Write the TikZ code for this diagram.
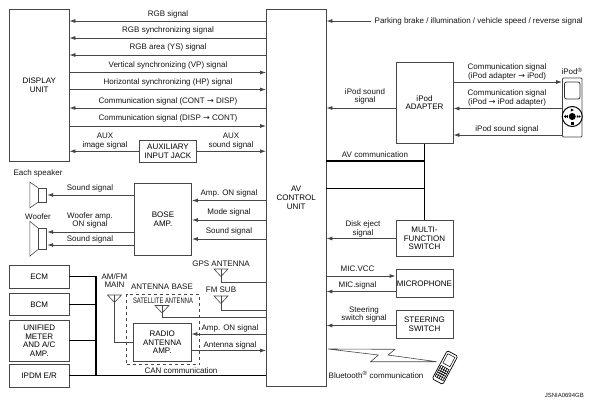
\documentclass[tikz,border=0pt]{standalone}
\usepackage{fontspec}
\setmainfont{Liberation Sans}
\newfontfamily\arrowfont{DejaVu Sans}
\usetikzlibrary{positioning,calc,arrows.meta}

\begin{document}
\begin{tikzpicture}[x=1pt,y=-1pt,
    font=\fontsize{8}{8.6}\selectfont,
    box/.style={draw=linecol, line width=0.8pt, inner sep=0pt, align=center},
    lbl/.style={inner sep=0pt, align=center, text=txtcol},
    sig/.style={draw=linecol, line width=0.8pt, -{Latex[length=6pt,width=4pt]}},
    wire/.style={draw=linecol, line width=0.8pt},
    bus/.style={draw=black, line width=1.3pt}]

\definecolor{linecol}{RGB}{70,70,70}
\definecolor{txtcol}{RGB}{20,20,20}

% ---------------- helper: antenna symbol ----------------
\newcommand{\antennasym}[3]{%
  \coordinate (#1) at (#2,#3);
  \draw[wire, line width=0.6pt] ($(#1)+(-7,0)$) -- ($(#1)+(7,0)$) -- ($(#1)+(0,7.5)$) -- cycle;
}
% ---------------- helper: speaker cone ----------------
\newcommand{\speakercone}[2]{%
  \draw[wire, line width=0.6pt] (#1.north west) -- ($(#1.north west)+(-8,-#2)$)
    -- ($(#1.south west)+(-8,#2)$) -- (#1.south west);
}
\newcommand{\sarr}{{\arrowfont →}}

\useasboundingbox (0,0) rectangle (594,407);

% =========== main blocks ===========
\node[box, minimum width=59.5pt, minimum height=152pt] (display) at (39.25,85.5) {DISPLAY\\UNIT};
\node[box, minimum width=59.5pt, minimum height=376.5pt] (avcu) at (296.25,197.75) {AV\\CONTROL\\UNIT};
\node[box, minimum width=57pt, minimum height=22.5pt] (auxjack) at (168,151.25) {AUXILIARY\\INPUT JACK};
\node[box, minimum width=57pt, minimum height=72pt] (bose) at (163,219.5) {BOSE\\AMP.};
\node[box, minimum width=59.5pt, minimum height=22.5pt] (ecm) at (39.25,276.75) {ECM};
\node[box, minimum width=59.5pt, minimum height=22.5pt] (bcm) at (39.25,304.25) {BCM};
\node[box, minimum width=59.5pt, minimum height=40.5pt] (unified) at (39.25,340.75) {UNIFIED\\METER\\AND A/C\\AMP.};
\node[box, minimum width=59.5pt, minimum height=22.5pt] (ipdm) at (39.25,375.75) {IPDM E/R};
\node[box, minimum width=57.5pt, minimum height=38pt] (radio) at (162.25,342.5) {RADIO\\ANTENNA\\AMP.};
\node[box, minimum width=57pt, minimum height=81.5pt] (adapter) at (424.5,102.75) {iPod\\ADAPTER};
\node[box, minimum width=57pt, minimum height=36pt] (multi) at (424.5,238.5) {MULTI-\\FUNCTION\\SWITCH};
\node[box, minimum width=57pt, minimum height=28.5pt] (mic) at (424.5,283.25) {MICROPHONE};
\node[box, minimum width=57pt, minimum height=28pt] (steering) at (424.5,324.5) {STEERING\\SWITCH};
\node[draw=linecol, dashed, line width=0.7pt, inner sep=0pt, minimum width=73pt, minimum height=70.5pt] (antbase) at (163,329.25) {};

% =========== display <-> AV signals ===========
\foreach \nm/\y/\ly/\txt in {rgb/21/14/RGB signal, sync/38/30.5/RGB synchronizing signal,
    area/55/47.5/RGB area (YS) signal, cdisp/108/101/Communication signal (CONT \sarr{} DISP)} {
  \draw[sig] (avcu.west |- 0,\y) -- (display.east |- 0,\y);
  \node[lbl] (lbl\nm) at (168,\ly) {\txt};
}
\foreach \nm/\y/\ly/\txt in {vp/72.5/65.5/Vertical synchronizing (VP) signal, hp/89.5/82/Horizontal synchronizing (HP) signal,
    dcont/126/118.5/Communication signal (DISP \sarr{} CONT)} {
  \draw[sig] (display.east |- 0,\y) -- (avcu.west |- 0,\y);
  \node[lbl] (lbl\nm) at (168,\ly) {\txt};
}
\draw[sig] (auxjack.west) -- (display.east |- auxjack);
\draw[sig] (auxjack.east) -- (avcu.west |- auxjack);
\node[lbl] (lblauximg) at (105,141) {AUX\\image signal};
\node[lbl] (lblauxsnd) at (231,141) {AUX\\sound signal};

% =========== speakers ===========
\node[box, minimum width=8.5pt, minimum height=14pt] (spk) at (42.5,195) {};
\speakercone{spk}{5.5}
\node[box, minimum width=8.5pt, minimum height=21pt] (woofer) at (42.5,238.75) {};
\speakercone{woofer}{6.5}
\node[lbl] (lbleach) at (38,173) {Each speaker};
\node[lbl] (lblwoofer) at (38,216.5) {Woofer};
\draw[sig] (bose.west |- spk) -- (spk.east);
\draw[sig] (bose.west |- 0,232) -- (woofer.east |- 0,232);
\draw[sig] (bose.west |- 0,245) -- (woofer.east |- 0,245);
\node[lbl] (lblsnd) at (90,188) {Sound signal};
\node[lbl] (lblwamp) at (90,220.5) {Woofer amp.\\ON signal};
\node[lbl] (lblwsnd) at (90,239) {Sound signal};

% =========== AV -> BOSE ===========
\draw[sig] (avcu.west |- 0,200.5) -- (bose.east |- 0,200.5);
\draw[sig] (avcu.west |- 0,220) -- (bose.east |- 0,220);
\draw[sig] (avcu.west |- 0,239) -- (bose.east |- 0,239);
\node[lbl] (lblampon) at (229,193.5) {Amp. ON signal};
\node[lbl] (lblmode) at (229,212.5) {Mode signal};
\node[lbl] (lblbsnd) at (229,231.5) {Sound signal};

% =========== antennas ===========
\antennasym{gps}{221}{269}
\antennasym{fmsub}{221}{296}
\antennasym{amfm}{114.5}{295}
\antennasym{sat}{162}{305.5}
\draw[wire] (gps) |- (avcu.west |- 0,282);
\draw[wire] (fmsub) |- (avcu.west |- 0,310);
\draw[wire] (sat) |- (avcu.west |- 0,317.5);
\draw[wire] (amfm) |- (radio.west);
\node[lbl] (lblgps) at (221,264) {GPS ANTENNA};
\node[lbl] (lblfmsub) at (221,290) {FM SUB};
\node[lbl] (lblamfm) at (114.5,280.5) {AM/FM\\MAIN};
\node[lbl] (lblbase) at (162,287) {ANTENNA BASE};
\node[lbl, xscale=0.73] (lblsat) at (163,301) {SATELLITE ANTENNA};
\draw[sig] (avcu.west |- 0,334) -- (radio.east |- 0,334);
\draw[sig] (radio.east |- 0,350.5) -- (avcu.west |- 0,350.5);
\node[lbl] (lblaon) at (230,328.5) {Amp. ON signal};
\node[lbl] (lblasig) at (230,345) {Antenna signal};

% =========== CAN bus ===========
\coordinate (canjoin) at (96,376);
\draw[bus] (ipdm.east) -- (avcu.west |- ipdm.east);
\draw[bus] (ecm.east) -| (canjoin);
\draw[bus] (bcm.east) -- (canjoin |- bcm.east);
\draw[bus] (unified.east) -- (canjoin |- unified.east);
\node[lbl] (lblcan) at (181,370.5) {CAN communication};

% =========== right side ===========
\coordinate (parkin) at (371,21);
\draw[sig] (parkin) -- (avcu.east |- parkin);
\node[lbl, anchor=west] (lblpark) at (374.5,21) {Parking brake / illumination / vehicle speed / reverse signal};

\draw[sig] (adapter.west |- 0,108) -- (avcu.east |- 0,108);
\node[lbl] (lblisnd) at (365,96.5) {iPod sound\\signal};

\draw[bus] (adapter.south) -- (multi.north);
\draw[bus] (avcu.east |- 0,161) -- (adapter.south |- 0,161);
\draw[bus] (avcu.east |- 0,188.5) -- (adapter.south |- 0,188.5);
\node[lbl] (lblavc) at (375,154.5) {AV communication};

\draw[sig] (multi.west) -- (avcu.east |- multi.west);
\node[lbl] (lbleject) at (363,229) {Disk eject\\signal};
\draw[sig] (avcu.east |- 0,276) -- (mic.west |- 0,276);
\draw[sig] (mic.west |- 0,291.5) -- (avcu.east |- 0,291.5);
\node[lbl] (lblvcc) at (357.5,269) {MIC.VCC};
\node[lbl] (lblmicsig) at (357.5,285) {MIC.signal};
\draw[sig] (steering.west |- 0,325.5) -- (avcu.east |- 0,325.5);
\node[lbl] (lblsteer) at (364,314.5) {Steering\\switch signal};

% =========== iPod ===========
\node[draw=linecol, line width=0.8pt, rounded corners=1pt, inner sep=0pt, minimum width=19.5pt, minimum height=59pt] (ipod) at (572.25,107.5) {};
\node[draw=black!80, line width=0.8pt, rounded corners=2pt, inner sep=0pt, minimum width=15.5pt, minimum height=17pt] (ipodscreen) at (572.25,90.5) {};
\node[draw=black, line width=1pt, circle, inner sep=0pt, minimum size=20pt, fill=white] (ipodwheel) at (572.25,116.5) {};
\fill (ipodwheel) circle (3.5);
\fill ($(ipodwheel)+(-1.5,-8)$) -- ($(ipodwheel)+(1.5,-6.5)$) -- ($(ipodwheel)+(-1.5,-5)$) -- cycle;
\fill ($(ipodwheel)+(-1.5,5.5)$) rectangle ($(ipodwheel)+(1.5,8.5)$);
\foreach \dx in {-8.5,-6.5} \fill ($(ipodwheel)+(\dx,0)$) -- ($(ipodwheel)+(\dx+2,-1.5)$) -- ($(ipodwheel)+(\dx+2,1.5)$) -- cycle;
\foreach \dx in {8.5,6.5} \fill ($(ipodwheel)+(\dx,0)$) -- ($(ipodwheel)+(\dx-2,-1.5)$) -- ($(ipodwheel)+(\dx-2,1.5)$) -- cycle;
\draw[sig] (adapter.east |- 0,82) -- (ipod.west |- 0,82);
\draw[sig] (ipod.west |- 0,108.5) -- (adapter.east |- 0,108.5);
\draw[sig] (ipod.west |- 0,135) -- (adapter.east |- 0,135);
\node[lbl] (lblcomma) at (507,71.75) {Communication signal\\(iPod adapter \sarr{} iPod)};
\node[lbl] (lblcommb) at (507,98) {Communication signal\\(iPod \sarr{} iPod adapter)};
\node[lbl] (lblisndb) at (507,129) {iPod sound signal};
\node[lbl] (lblipod) at (572,71.5) {iPod\textsuperscript{®}};

% =========== Bluetooth ===========
\draw[wire, line width=0.6pt] (328,349) -- (395,349.3) -- (388,355) -- (436.7,361.7)
  -- (370.7,361.7) -- (378.3,355) -- cycle;
\node[lbl, anchor=west] (lblblue) at (328.5,375) {Bluetooth\textsuperscript{®} communication};
\begin{scope}[shift={(445,367.5)}, rotate=-28]
  \draw[black, line width=0.7pt, rounded corners=1.5pt, fill=white] (-6,-16) rectangle (6,16);
  \draw[black, line width=0.5pt] (-4,-13.5) rectangle (4,-3);
  \foreach \yy in {0,2.5,...,12.5} \draw[black, line width=0.6pt] (-4.5,\yy) -- (4.5,\yy);
  \foreach \xx in {-4.5,-2.25,...,4.5} \draw[black, line width=0.6pt] (\xx,0) -- (\xx,12.5);
\end{scope}

\node[lbl, anchor=east, font=\fontsize{6}{7}\selectfont] (lblcode) at (584,395) {JSNIA0694GB};

\end{tikzpicture}
\end{document}
